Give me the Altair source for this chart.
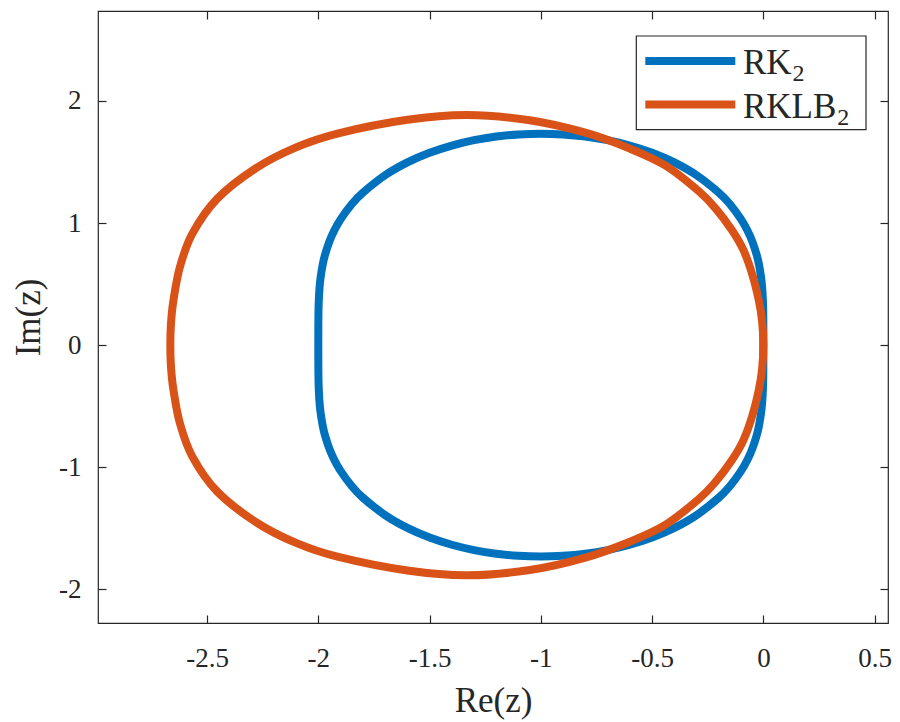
import altair as alt
import pandas as pd

# ---- values (closed loops; start point not repeated) ----
# RK2: upper arc from (0,0) leftwards to (-2,0), then lower arc back
rk2_re = [0.000, -0.001, -0.005, -0.010, -0.020, -0.030, -0.050, -0.070, -0.100, -0.150,
          -0.200, -0.300, -0.400, -0.500, -0.600, -0.700, -0.800, -0.900, -1.000, -1.100,
          -1.200, -1.300, -1.400, -1.500, -1.600, -1.700, -1.800, -1.850, -1.900, -1.930,
          -1.950, -1.970, -1.980, -1.990, -1.995, -1.999, -2.000,
          -1.999, -1.995, -1.990, -1.980, -1.970, -1.950, -1.930, -1.900, -1.850, -1.800,
          -1.700, -1.600, -1.500, -1.400, -1.300, -1.200, -1.100, -1.000, -0.900, -0.800,
          -0.700, -0.600, -0.500, -0.400, -0.300, -0.200, -0.150, -0.100, -0.070, -0.050,
          -0.030, -0.020, -0.010, -0.005, -0.001]
rk2_im = [0.000, 0.302, 0.458, 0.550, 0.662, 0.739, 0.850, 0.933, 1.030, 1.154,
          1.249, 1.392, 1.497, 1.576, 1.635, 1.679, 1.709, 1.726, 1.732, 1.726,
          1.709, 1.679, 1.635, 1.576, 1.497, 1.392, 1.249, 1.154, 1.030, 0.933,
          0.850, 0.739, 0.662, 0.550, 0.458, 0.302, 0.000,
          -0.302, -0.458, -0.550, -0.662, -0.739, -0.850, -0.933, -1.030, -1.154, -1.249,
          -1.392, -1.497, -1.576, -1.635, -1.679, -1.709, -1.726, -1.732, -1.726, -1.709,
          -1.679, -1.635, -1.576, -1.497, -1.392, -1.249, -1.154, -1.030, -0.933, -0.850,
          -0.739, -0.662, -0.550, -0.458, -0.302]

# RKLB2: upper arc from (0,0) leftwards to (-2.665,0), then lower arc back
rklb2_re = [0.000, -0.006, -0.021, -0.051, -0.090, -0.141, -0.215, -0.290, -0.439, -0.600,
            -0.800, -1.050, -1.330, -1.600, -1.910, -2.100, -2.280, -2.454, -2.566, -2.622,
            -2.651, -2.662, -2.665,
            -2.662, -2.651, -2.622, -2.566, -2.454, -2.280, -2.100, -1.910, -1.600, -1.330,
            -1.050, -0.800, -0.600, -0.439, -0.290, -0.215, -0.141, -0.090, -0.051, -0.021,
            -0.006]
rklb2_im = [0.00, 0.20, 0.37, 0.586, 0.78, 0.941, 1.12, 1.26, 1.47, 1.61,
            1.74, 1.842, 1.885, 1.846, 1.735, 1.62, 1.45, 1.20, 0.913, 0.64,
            0.367, 0.18, 0.00,
            -0.18, -0.367, -0.64, -0.913, -1.20, -1.45, -1.62, -1.735, -1.846, -1.885,
            -1.842, -1.74, -1.61, -1.47, -1.26, -1.12, -0.941, -0.78, -0.586, -0.37,
            -0.20]

series_names = ["RK2", "RKLB2"]
legend_main = ["RK", "RKLB"]
legend_sub = ["2", "2"]
series_colors = ["#0072BD", "#D95319"]

x_ticks = [-2.5, -2, -1.5, -1, -0.5, 0, 0.5]
y_ticks = [-2, -1, 0, 1, 2]
x_domain = [-2.99, 0.56]
y_domain = [-2.276, 2.737]

rows = []
for name, res, ims in [(series_names[0], rk2_re, rk2_im), (series_names[1], rklb2_re, rklb2_im)]:
    for i, (a, b) in enumerate(zip(res, ims)):
        rows.append({"series": name, "re": a, "im": b, "order": i})
df = pd.DataFrame(rows)

W, H = 790, 612
FONT = "Liberation Serif"
AX = "#262626"
label_expr = "'' + datum.value"

xs = alt.Scale(domain=x_domain, nice=False, zero=False)
ys = alt.Scale(domain=y_domain, nice=False, zero=False)
cs = alt.Scale(domain=series_names, range=series_colors)

x_bottom = alt.Axis(values=x_ticks, labelExpr=label_expr, orient="bottom", offset=-8,
                    tickSize=8, domain=False, grid=False, tickColor=AX, tickWidth=1.2,
                    labelFont=FONT, labelFontSize=27, labelColor=AX, labelPadding=22,
                    labelFlush=False, labelOverlap=False,
                    title="Re(z)", titleFont=FONT, titleFontSize=35, titleFontWeight="normal",
                    titleColor=AX, titlePadding=12)
y_left = alt.Axis(values=y_ticks, labelExpr=label_expr, orient="left", offset=-8,
                  tickSize=8, domain=False, grid=False, tickColor=AX, tickWidth=1.2,
                  labelFont=FONT, labelFontSize=27, labelColor=AX, labelPadding=17,
                  labelFlush=False, labelOverlap=False,
                  title="Im(z)", titleFont=FONT, titleFontSize=35, titleFontWeight="normal",
                  titleColor=AX, titlePadding=12)
x_top = alt.Axis(values=x_ticks, orient="top", offset=-8, tickSize=8, domain=False,
                 grid=False, labels=False, title=None, tickColor=AX, tickWidth=1.2)
y_right = alt.Axis(values=y_ticks, orient="right", offset=-8, tickSize=8, domain=False,
                   grid=False, labels=False, title=None, tickColor=AX, tickWidth=1.2)

def curve(name, xaxis, yaxis):
    return alt.Chart(df).transform_filter(alt.datum.series == name).mark_line(
        strokeWidth=8, strokeJoin="round", strokeCap="round",
        interpolate="cardinal-closed", tension=0, clip=True
    ).encode(
        x=alt.X("re:Q", scale=xs, axis=xaxis),
        y=alt.Y("im:Q", scale=ys, axis=yaxis),
        color=alt.Color("series:N", scale=cs, legend=None),
        order="order:Q",
    )

blue = curve(series_names[0], x_bottom, y_left)
orange = curve(series_names[1], None, None)
frame = alt.Chart(df).mark_point(opacity=0).encode(
    x=alt.X("re:Q", scale=xs, axis=x_top),
    y=alt.Y("im:Q", scale=ys, axis=y_right),
)

one = alt.Data(values=[{"k": 1}])
legend_layers = [
    alt.Chart(one).mark_rect(fill="white", stroke=AX, strokeWidth=1.2).encode(
        x=alt.value(538.3), x2=alt.value(768), y=alt.value(25), y2=alt.value(118.6))
]
item_y = [50.1, 93.5]
text_y = [63.3, 106.6]
main_w = [48.6, 93.3]
for i in range(2):
    legend_layers.append(
        alt.Chart(one).mark_rule(color=series_colors[i], strokeWidth=8).encode(
            x=alt.value(547.3), x2=alt.value(637.3), y=alt.value(item_y[i]))
    )
    legend_layers.append(
        alt.Chart(one).mark_text(align="left", baseline="alphabetic", font=FONT,
                                 fontSize=35, color=AX).encode(
            x=alt.value(645), y=alt.value(text_y[i]), text=alt.value(legend_main[i]))
    )
    legend_layers.append(
        alt.Chart(one).mark_text(align="left", baseline="alphabetic", font=FONT,
                                 fontSize=24, color=AX).encode(
            x=alt.value(645 + main_w[i] + 1), y=alt.value(text_y[i] + 7),
            text=alt.value(legend_sub[i]))
    )

chart = alt.layer(blue, orange, frame, *legend_layers).resolve_axis(
    x="independent", y="independent"
).properties(
    width=W, height=H,
    autosize=alt.AutoSizeParams(type="none"),
    padding={"left": 90, "top": 3, "right": 4, "bottom": 99},
    background="white",
).configure_view(stroke=AX, strokeWidth=1.2)

chart.save("out.html", embed_options={"renderer": "svg", "actions": False})
